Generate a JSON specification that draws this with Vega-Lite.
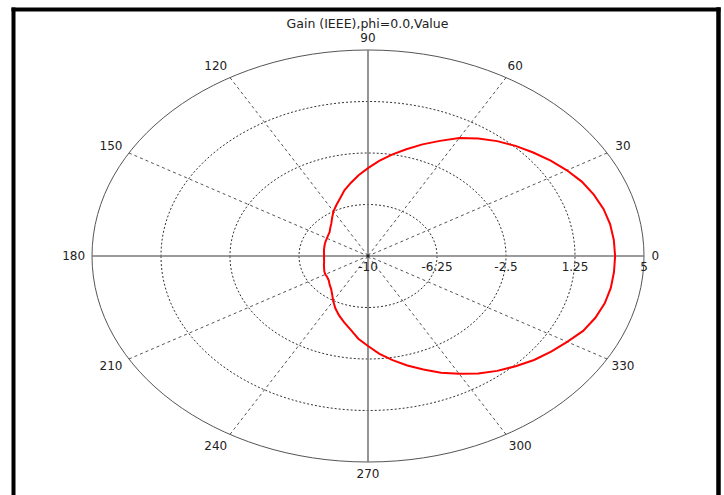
{
  "$schema": "https://vega.github.io/schema/vega-lite/v6.json",
  "width": 705,
  "height": 486,
  "autosize": "none",
  "padding": {"left": 13, "top": 9, "right": 6, "bottom": 0},
  "background": "white",
  "config": {"view": {"stroke": null}, "font": "DejaVu Sans"},
  "title": {"text": "Gain (IEEE),phi=0.0,Value", "font": "DejaVu Sans", "fontSize": 12.5, "fontWeight": "normal", "color": "#222", "anchor": "middle", "offset": -21, "dx": 2},
  "datasets": {
    "pattern": [
      {"angle": 0, "gain": 3.43}, {"angle": 5, "gain": 3.41}, {"angle": 10, "gain": 3.36}, {"angle": 15, "gain": 3.25},
      {"angle": 20, "gain": 3.06}, {"angle": 25, "gain": 2.82}, {"angle": 30, "gain": 2.48}, {"angle": 35, "gain": 2.12},
      {"angle": 40, "gain": 1.72}, {"angle": 45, "gain": 1.34}, {"angle": 50, "gain": 0.92}, {"angle": 55, "gain": 0.45},
      {"angle": 60, "gain": -0.08}, {"angle": 65, "gain": -0.75}, {"angle": 70, "gain": -1.35}, {"angle": 75, "gain": -1.95},
      {"angle": 80, "gain": -2.5}, {"angle": 85, "gain": -3.05}, {"angle": 90, "gain": -3.6}, {"angle": 95, "gain": -4.1},
      {"angle": 100, "gain": -4.6}, {"angle": 105, "gain": -5.05}, {"angle": 110, "gain": -5.55}, {"angle": 115, "gain": -5.92},
      {"angle": 120, "gain": -6.25}, {"angle": 125, "gain": -6.6}, {"angle": 130, "gain": -6.9}, {"angle": 135, "gain": -7.1},
      {"angle": 140, "gain": -7.28}, {"angle": 145, "gain": -7.36}, {"angle": 150, "gain": -7.42}, {"angle": 155, "gain": -7.46},
      {"angle": 160, "gain": -7.5}, {"angle": 165, "gain": -7.54}, {"angle": 170, "gain": -7.57}, {"angle": 175, "gain": -7.6},
      {"angle": 180, "gain": -7.61}, {"angle": 185, "gain": -7.6}, {"angle": 190, "gain": -7.58}, {"angle": 195, "gain": -7.52},
      {"angle": 200, "gain": -7.46}, {"angle": 205, "gain": -7.38}, {"angle": 210, "gain": -7.32}, {"angle": 215, "gain": -7.3},
      {"angle": 220, "gain": -7.22}, {"angle": 225, "gain": -7.05}, {"angle": 230, "gain": -6.88}, {"angle": 235, "gain": -6.6},
      {"angle": 240, "gain": -6.22}, {"angle": 245, "gain": -5.8}, {"angle": 250, "gain": -5.4}, {"angle": 255, "gain": -5.0},
      {"angle": 260, "gain": -4.55}, {"angle": 265, "gain": -3.95}, {"angle": 270, "gain": -3.45}, {"angle": 275, "gain": -2.85},
      {"angle": 280, "gain": -2.3}, {"angle": 285, "gain": -1.75}, {"angle": 290, "gain": -1.2}, {"angle": 295, "gain": -0.62},
      {"angle": 300, "gain": -0.1}, {"angle": 305, "gain": 0.45}, {"angle": 310, "gain": 0.92}, {"angle": 315, "gain": 1.35},
      {"angle": 320, "gain": 1.78}, {"angle": 325, "gain": 2.15}, {"angle": 330, "gain": 2.5}, {"angle": 335, "gain": 2.9},
      {"angle": 340, "gain": 3.15}, {"angle": 345, "gain": 3.32}, {"angle": 350, "gain": 3.4}, {"angle": 355, "gain": 3.42},
      {"angle": 360, "gain": 3.43}
    ],
    "rings": [{"level": -10}, {"level": -6.25}, {"level": -2.5}, {"level": 1.25}, {"level": 5}],
    "spokes": [
      {"angle": 0}, {"angle": 30}, {"angle": 60}, {"angle": 90}, {"angle": 120}, {"angle": 150},
      {"angle": 180}, {"angle": 210}, {"angle": 240}, {"angle": 270}, {"angle": 300}, {"angle": 330}
    ]
  },
  "resolve": {"axis": {"x": "independent", "y": "independent"}},
  "layer": [
    {
      "data": {"name": "rings"},
      "transform": [{"filter": "datum.level > -10 && datum.level < 5"}],
      "mark": {"type": "point", "shape": "M -1 0 A 1 0.74638 0 1 0 1 0 A 1 0.74638 0 1 0 -1 0 Z", "filled": false, "stroke": "#333", "strokeWidth": 1, "strokeDash": [2, 2], "opacity": 1},
      "encoding": {
        "x": {"datum": 0, "type": "quantitative", "scale": {"domain": [-19.2935, 19.0217], "nice": false, "zero": false}, "axis": null},
        "y": {"datum": 0, "type": "quantitative", "scale": {"domain": [-17.4029, 17.9854], "nice": false, "zero": false}, "axis": null},
        "size": {"field": "level", "type": "quantitative", "scale": {"type": "threshold", "domain": [-4, 0, 3], "range": [19044, 76176, 171396, 304704]}, "legend": null}
      }
    },
    {
      "data": {"name": "rings"},
      "transform": [{"filter": "datum.level == 5"}],
      "mark": {"type": "point", "shape": "M -1 0 A 1 0.74638 0 1 0 1 0 A 1 0.74638 0 1 0 -1 0 Z", "filled": false, "stroke": "#555", "strokeWidth": 1, "opacity": 1},
      "encoding": {
        "x": {"datum": 0, "type": "quantitative", "axis": null},
        "y": {"datum": 0, "type": "quantitative", "axis": null},
        "size": {"field": "level", "type": "quantitative", "scale": {"type": "threshold", "domain": [-4, 0, 3], "range": [19044, 76176, 171396, 304704]}, "legend": null}
      }
    },
    {
      "data": {"name": "spokes"},
      "transform": [
        {"filter": "datum.angle % 90 != 0"},
        {"calculate": "15 * cos(datum.angle * PI / 180)", "as": "ex"},
        {"calculate": "15 * sin(datum.angle * PI / 180)", "as": "ey"}
      ],
      "mark": {"type": "rule", "stroke": "#555", "strokeWidth": 1, "strokeDash": [3, 3]},
      "encoding": {
        "x": {"field": "ex", "type": "quantitative", "axis": null},
        "y": {"field": "ey", "type": "quantitative", "axis": null},
        "x2": {"datum": 0},
        "y2": {"datum": 0}
      }
    },
    {
      "data": {"name": "spokes"},
      "transform": [
        {"filter": "datum.angle % 90 == 0"},
        {"calculate": "15 * cos(datum.angle * PI / 180)", "as": "ex"},
        {"calculate": "15 * sin(datum.angle * PI / 180)", "as": "ey"}
      ],
      "mark": {"type": "rule", "stroke": "#7a7a7a", "strokeWidth": 1.6},
      "encoding": {
        "x": {"field": "ex", "type": "quantitative", "axis": null},
        "y": {"field": "ey", "type": "quantitative", "axis": null},
        "x2": {"datum": 0},
        "y2": {"datum": 0}
      }
    },
    {
      "data": {"name": "pattern"},
      "transform": [
        {"calculate": "(datum.gain + 10) * cos(datum.angle * PI / 180)", "as": "px"},
        {"calculate": "(datum.gain + 10) * sin(datum.angle * PI / 180)", "as": "py"}
      ],
      "mark": {"type": "line", "stroke": "#ff0000", "strokeWidth": 2, "interpolate": "linear"},
      "encoding": {
        "x": {"field": "px", "type": "quantitative", "axis": null},
        "y": {"field": "py", "type": "quantitative", "axis": null},
        "order": {"field": "angle", "type": "quantitative"}
      }
    },
    {
      "data": {"values": [{"origin": "center"}]},
      "mark": {"type": "point", "filled": true, "color": "#222", "size": 8, "opacity": 1},
      "encoding": {
        "x": {"datum": 0, "type": "quantitative", "axis": {"orient": "top", "domain": true, "domainColor": "#000", "domainWidth": 4, "domainCap": "square", "ticks": false, "labels": false, "grid": false, "title": null}},
        "y": {"datum": 0, "type": "quantitative", "axis": {"orient": "left", "domain": true, "domainColor": "#000", "domainWidth": 4, "domainCap": "square", "ticks": false, "labels": false, "grid": false, "title": null}}
      }
    },
    {
      "data": {"name": "rings"},
      "transform": [{"calculate": "datum.level + 10", "as": "rx"}],
      "mark": {"type": "text", "fontSize": 12, "color": "#222", "align": "center", "baseline": "middle", "dy": 11},
      "encoding": {
        "x": {"field": "rx", "type": "quantitative", "axis": null},
        "y": {"datum": 0, "type": "quantitative", "axis": {"orient": "right", "domain": true, "domainColor": "#000", "domainWidth": 4.5, "domainCap": "square", "ticks": false, "labels": false, "grid": false, "title": null}},
        "text": {"field": "level", "type": "nominal"}
      }
    },
    {
      "data": {"name": "spokes"},
      "transform": [
        {"calculate": "16 * cos(datum.angle * PI / 180)", "as": "lx"},
        {"calculate": "16 * sin(datum.angle * PI / 180)", "as": "ly"}
      ],
      "mark": {"type": "text", "fontSize": 12, "color": "#222", "align": "center", "baseline": "middle",
        "dx": {"expr": "datum.angle == 0 ? -7 : (datum.angle == 120 || datum.angle == 240) ? -5 : datum.angle == 300 ? 5 : (datum.angle == 150 || datum.angle == 210) ? -2 : 0"},
        "dy": {"expr": "datum.angle == 90 ? 2 : datum.angle == 270 ? -2 : 0"}},
      "encoding": {
        "x": {"field": "lx", "type": "quantitative", "axis": null},
        "y": {"field": "ly", "type": "quantitative", "axis": null},
        "text": {"field": "angle", "type": "nominal"}
      }
    }
  ]
}
